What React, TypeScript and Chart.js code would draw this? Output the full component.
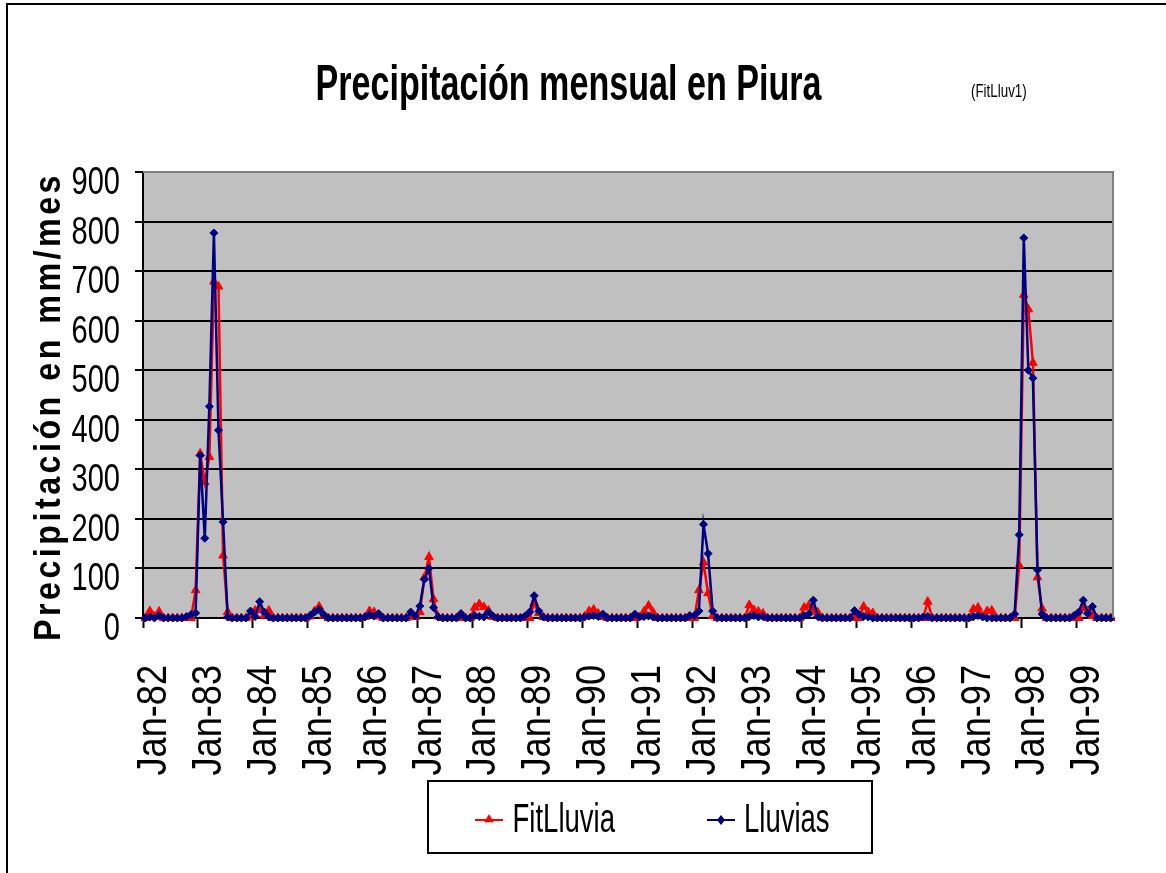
import React, { useEffect, useRef } from 'react';
import { Chart, registerables } from 'chart.js';

Chart.register(...registerables);

// ---------- data ----------
const MONTHS = ['Jan', 'Feb', 'Mar', 'Apr', 'May', 'Jun', 'Jul', 'Aug', 'Sep', 'Oct', 'Nov', 'Dec'];
const FIRST_YEAR = 82;
const MONTH_COUNT = 212; // Jan-82 .. Aug-99

const categories: string[] = Array.from({ length: MONTH_COUNT }, (_, i) =>
  `${MONTHS[i % 12]}-${String(FIRST_YEAR + Math.floor(i / 12)).padStart(2, '0')}`
);

// Lluvias (observed), one row per year
const lluvias: number[] = [
  0, 2, 0, 5, 0, 0, 0, 0, 0, 3, 7, 10, // 1982
  328, 161, 427, 777, 379, 194, 2, 0, 0, 0, 0, 14, // 1983
  3, 33, 12, 2, 0, 0, 0, 0, 0, 0, 0, 0, // 1984
  5, 12, 17, 7, 0, 0, 0, 0, 0, 0, 0, 0, // 1985
  2, 7, 4, 9, 0, 0, 0, 0, 0, 0, 12, 4, // 1986
  24, 78, 100, 21, 2, 0, 0, 0, 0, 9, 0, 0, // 1987
  5, 3, 2, 12, 4, 0, 0, 0, 0, 0, 0, 4, // 1988
  12, 45, 14, 2, 0, 0, 0, 0, 0, 0, 0, 0, // 1989
  2, 4, 5, 3, 8, 0, 0, 0, 0, 0, 0, 8, // 1990
  2, 3, 4, 2, 0, 0, 0, 0, 0, 0, 0, 5, // 1991
  5, 14, 189, 130, 14, 0, 0, 0, 0, 0, 0, 0, // 1992
  3, 5, 2, 3, 0, 0, 0, 0, 0, 0, 0, 0, // 1993
  5, 8, 36, 3, 0, 0, 0, 0, 0, 0, 0, 15, // 1994
  7, 3, 2, 0, 0, 0, 0, 0, 0, 0, 0, 0, // 1995
  0, 0, 2, 3, 0, 0, 0, 0, 0, 0, 0, 0, // 1996
  0, 3, 5, 2, 0, 0, 0, 0, 0, 0, 8, 168, // 1997
  767, 500, 484, 97, 8, 0, 0, 0, 0, 0, 0, 5, // 1998
  12, 36, 9, 23, 0, 0, 0, 0, // 1999
];

// FitLluvia (fitted), one row per year
const fitLluvia: number[] = [
  0, 14, 3, 13, 0, 0, 0, 0, 0, 0, 0, 56, // 1982
  332, 274, 325, 679, 669, 126, 12, 0, 0, 0, 0, 3, // 1983
  15, 18, 5, 15, 0, 0, 0, 0, 0, 0, 0, 0, // 1984
  3, 14, 23, 5, 0, 0, 0, 0, 0, 0, 0, 0, // 1985
  2, 14, 12, 3, 0, 0, 0, 0, 0, 0, 3, 2, // 1986
  12, 82, 123, 38, 3, 0, 0, 0, 0, 2, 0, 0, // 1987
  21, 28, 22, 15, 2, 0, 0, 0, 0, 0, 0, 0, // 1988
  0, 30, 10, 2, 0, 0, 0, 0, 0, 0, 0, 0, // 1989
  3, 14, 17, 9, 2, 0, 0, 0, 0, 0, 0, 0, // 1990
  2, 13, 25, 11, 0, 0, 0, 0, 0, 0, 0, 0, // 1991
  0, 56, 112, 50, 4, 0, 0, 0, 0, 0, 0, 0, // 1992
  26, 16, 13, 9, 0, 0, 0, 0, 0, 0, 0, 0, // 1993
  21, 25, 15, 11, 0, 0, 0, 0, 0, 0, 0, 0, // 1994
  0, 23, 12, 10, 0, 0, 0, 0, 0, 0, 0, 0, // 1995
  0, 0, 0, 33, 0, 0, 0, 0, 0, 0, 0, 0, // 1996
  0, 18, 21, 4, 14, 15, 0, 0, 0, 0, 0, 106, // 1997
  652, 623, 515, 82, 19, 0, 0, 0, 0, 0, 0, 0, // 1998
  0, 20, 14, 4, 0, 0, 0, 0, // 1999
];

const Y_MIN = 0;
const Y_MAX = 900;
const Y_STEP = 100;
const LABEL_EVERY = 12;

const TITLE = 'Precipitación mensual en Piura';
const SUBTITLE = '(FitLluv1)';
const Y_TITLE = 'Precipitación en mm/mes';
const SERIES_NAMES = ['FitLluvia', 'Lluvias'];

// ---------- styles ----------
const RED = '#FF0000';
const NAVY = '#000080';
const PLOT_BG = '#C0C0C0';
const SANS = "'Liberation Sans', Arial, sans-serif";

// draw text with a horizontal squeeze (reference uses a condensed face)
function squeezedText(
  ctx: CanvasRenderingContext2D,
  text: string,
  x: number,
  y: number,
  font: string,
  opts: { width?: number; sx?: number; align?: CanvasTextAlign; rotate?: number; spacing?: string }
) {
  ctx.save();
  ctx.font = font;
  (ctx as any).letterSpacing = opts.spacing || '0px';
  ctx.textAlign = opts.align || 'left';
  ctx.textBaseline = 'alphabetic';
  const w = ctx.measureText(text).width;
  const sx = opts.width ? opts.width / w : opts.sx || 1;
  ctx.translate(x, y);
  if (opts.rotate) ctx.rotate(opts.rotate);
  ctx.scale(sx, 1);
  ctx.fillStyle = '#000';
  ctx.fillText(text, 0, 0);
  ctx.restore();
}

function drawTriangle(ctx: CanvasRenderingContext2D, x: number, y: number, r: number, color: string) {
  ctx.beginPath();
  ctx.moveTo(x, y - r);
  ctx.lineTo(x + r * 0.866, y + r * 0.5);
  ctx.lineTo(x - r * 0.866, y + r * 0.5);
  ctx.closePath();
  ctx.fillStyle = color;
  ctx.fill();
}

function drawDiamond(ctx: CanvasRenderingContext2D, x: number, y: number, r: number, color: string) {
  ctx.beginPath();
  ctx.moveTo(x, y - r);
  ctx.lineTo(x + r * 0.8, y);
  ctx.lineTo(x, y + r);
  ctx.lineTo(x - r * 0.8, y);
  ctx.closePath();
  ctx.fillStyle = color;
  ctx.fill();
}

const decorPlugin = {
  id: 'decor',
  beforeDraw(chart: any) {
    const { ctx, chartArea } = chart;
    ctx.save();
    ctx.fillStyle = '#FFFFFF';
    ctx.fillRect(0, 0, chart.width, chart.height);
    ctx.fillStyle = PLOT_BG;
    ctx.fillRect(chartArea.left, chartArea.top, chartArea.right - chartArea.left, chartArea.bottom - chartArea.top);
    ctx.restore();
  },
  afterDraw(chart: any) {
    const { ctx, chartArea } = chart;
    const xs = chart.scales.x;
    const ys = chart.scales.y;
    ctx.save();
    // outer frame (extends beyond the visible page)
    ctx.fillStyle = '#000';
    ctx.fillRect(6, 3, chart.width - 6, 2);
    ctx.fillRect(6, 3, 2, chart.height - 3);

    // plot area top / right border
    ctx.strokeStyle = '#808080';
    ctx.lineWidth = 2;
    ctx.beginPath();
    ctx.moveTo(chartArea.left, chartArea.top);
    ctx.lineTo(chartArea.right, chartArea.top);
    ctx.lineTo(chartArea.right, chartArea.bottom);
    ctx.stroke();

    // y tick labels (positions from the y scale)
    for (const t of ys.ticks) {
      const py = ys.getPixelForValue(t.value);
      const label = t.label != null ? String(t.label) : String(t.value);
      squeezedText(ctx, label, 120, py + 8 + 14, `39.5px ${SANS}`, { sx: 0.735, align: 'right' });
    }

    // x tick labels (positions from the category scale), rotated
    for (let i = 0; i < xs.ticks.length; i += LABEL_EVERY) {
      const px = xs.getPixelForValue(i);
      const label = xs.getLabelForValue(i);
      squeezedText(ctx, label, px + 20.7, 665, `42px ${SANS}`, { sx: 0.86, align: 'right', rotate: -Math.PI / 2 });
    }

    // titles
    squeezedText(ctx, TITLE, 315.5, 99.5, `bold 50px ${SANS}`, { width: 506 });
    squeezedText(ctx, SUBTITLE, 971, 97, `18px ${SANS}`, { width: 55.7 });

    // y axis title
    squeezedText(ctx, Y_TITLE, 59.5, 641, `bold 37px ${SANS}`, {
      width: 469,
      rotate: -Math.PI / 2,
      spacing: '4px',
    });

    // legend box
    ctx.strokeStyle = '#000';
    ctx.lineWidth = 2;
    ctx.strokeRect(428, 781, 444, 72);
    const ly = 820;
    ctx.lineWidth = 2;
    ctx.strokeStyle = RED;
    ctx.beginPath();
    ctx.moveTo(475, ly);
    ctx.lineTo(503, ly);
    ctx.stroke();
    drawTriangle(ctx, 489, ly - 0.5, 5.5, RED);
    ctx.strokeStyle = NAVY;
    ctx.beginPath();
    ctx.moveTo(707, ly);
    ctx.lineTo(735, ly);
    ctx.stroke();
    drawDiamond(ctx, 721, ly, 5, NAVY);
    squeezedText(ctx, SERIES_NAMES[0], 512.5, 831.5, `40px ${SANS}`, { width: 102.5 });
    squeezedText(ctx, SERIES_NAMES[1], 744, 831.5, `40px ${SANS}`, { width: 85.5 });
    ctx.restore();
  },
};

export default function App() {
  const ref = useRef<HTMLCanvasElement>(null);

  useEffect(() => {
    if (!ref.current) return;
    const chart = new Chart(ref.current, {
      type: 'line',
      data: {
        labels: categories,
        datasets: [
          {
            label: SERIES_NAMES[0],
            data: fitLluvia,
            borderColor: RED,
            backgroundColor: RED,
            borderWidth: 2.5,
            pointStyle: 'triangle',
            pointRadius: 5,
            pointBorderWidth: 1,
            pointBorderColor: RED,
            pointBackgroundColor: RED,
            tension: 0,
            clip: false as any,
            order: 1,
          },
          {
            label: SERIES_NAMES[1],
            data: lluvias,
            borderColor: NAVY,
            backgroundColor: NAVY,
            borderWidth: 2.5,
            pointStyle: 'rectRot',
            pointRadius: 4,
            pointBorderWidth: 1,
            pointBorderColor: NAVY,
            pointBackgroundColor: NAVY,
            tension: 0,
            clip: false as any,
            order: 0,
          },
        ],
      },
      options: {
        animation: false,
        responsive: false,
        devicePixelRatio: 1,
        layout: { padding: { left: 0, top: 172, right: 53, bottom: 95 } },
        plugins: {
          legend: { display: false },
          title: { display: false },
          tooltip: { enabled: false },
        },
        scales: {
          x: {
            type: 'category',
            offset: true,
            afterFit: (scale: any) => {
              scale.height = 160;
              scale.paddingLeft = 0;
              scale.paddingRight = 0;
            },
            grid: {
              display: true,
              drawOnChartArea: false,
              drawTicks: true,
              tickLength: 10,
              tickWidth: 2,
              offset: true,
              tickColor: (c: any) =>
                typeof c.index === 'number' && c.index % LABEL_EVERY === 0 ? '#000' : 'rgba(0,0,0,0)',
            },
            border: { display: true, color: '#000', width: 2 },
            ticks: { display: false, autoSkip: false },
          },
          y: {
            min: Y_MIN,
            max: Y_MAX,
            afterFit: (scale: any) => {
              scale.width = 143;
              scale.paddingTop = 0;
              scale.paddingBottom = 0;
            },
            grid: {
              color: (c: any) => (c.tick && c.tick.value === Y_MAX ? '#808080' : '#000'),
              lineWidth: 2,
              tickLength: 8,
              tickWidth: 2,
              tickColor: '#000',
            },
            border: { display: true, color: '#000', width: 2 },
            ticks: { display: false, stepSize: Y_STEP },
          },
        },
      },
      plugins: [decorPlugin],
    });
    return () => chart.destroy();
  }, []);

  return (
    <div style={{ position: 'absolute', left: 0, top: 0, width: 1166, height: 873, background: '#fff' }}>
      <canvas ref={ref} width={1166} height={873} style={{ display: 'block', width: 1166, height: 873 }} />
    </div>
  );
}
